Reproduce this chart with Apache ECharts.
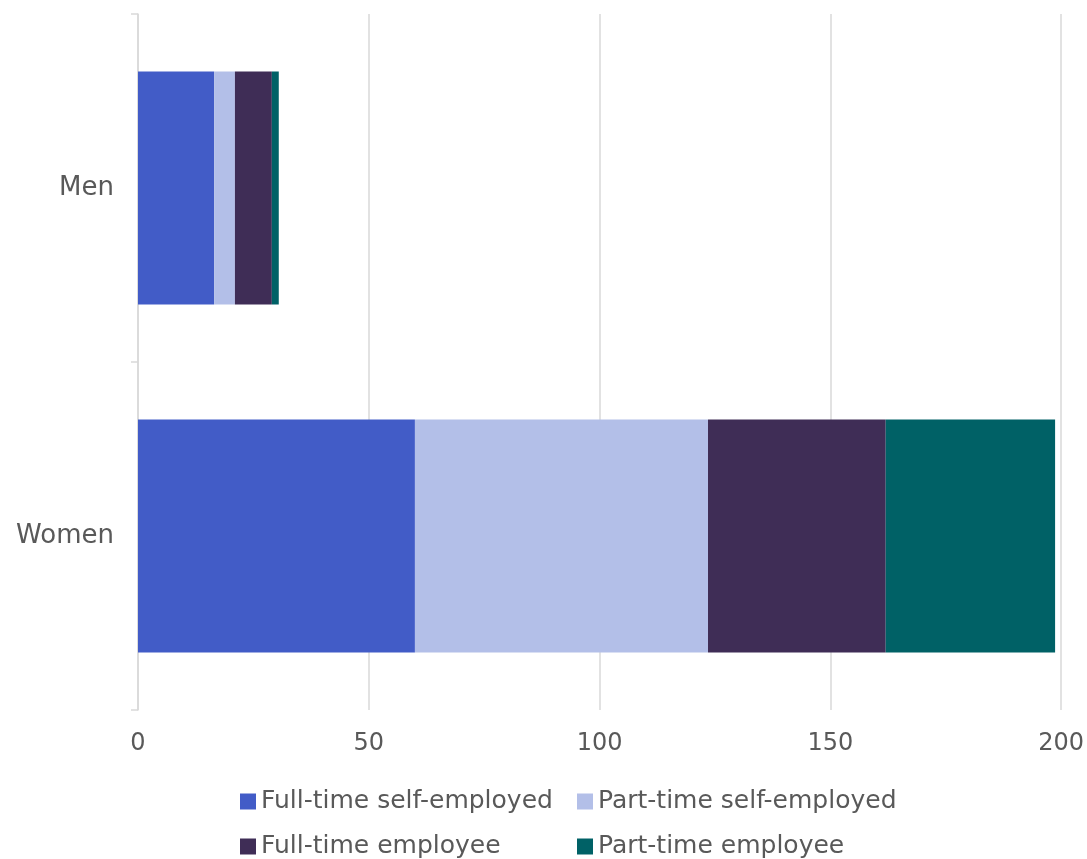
<!DOCTYPE html>
<html><head><meta charset="utf-8">
<script src="https://cdn.jsdelivr.net/npm/echarts@6/dist/echarts.min.js"></script>
<style>html,body{margin:0;padding:0;background:#fff}#c{width:1087px;height:859px}</style>
</head><body><div id="c"></div>
<script>
var categories = ["Men", "Women"];
var seriesNames = ["Full-time self-employed", "Part-time self-employed", "Full-time employee", "Part-time employee"];
var fullTimeSelf = [16.5, 60];
var partTimeSelf = [4.5, 63.5];
var fullTimeEmp = [8.0, 38.5];
var partTimeEmp = [1.5, 36.7];
var xTicks = {min: 0, max: 200, interval: 50};
var colors = ["#425CC7", "#B3BFE8", "#3F2D56", "#006166"];
var values = [fullTimeSelf, partTimeSelf, fullTimeEmp, partTimeEmp];

var FONT = "DejaVu Sans";
var chart = echarts.init(document.getElementById('c'));
var legendText = {color: '#595959', fontSize: 25, fontFamily: FONT};
var legendPos = [[240, 789], [577, 789], [240, 834], [577, 834]];
chart.setOption({
  animation: false,
  textStyle: {fontFamily: FONT},
  grid: {left: 138, right: 25, top: 14, bottom: 149, containLabel: false},
  legend: seriesNames.map(function (n, i) {
    return {data: [n], left: legendPos[i][0], top: legendPos[i][1], itemWidth: 16, itemHeight: 16, itemGap: 4, icon: 'rect', textStyle: legendText, padding: 0};
  }),
  xAxis: {
    type: 'value', min: xTicks.min, max: xTicks.max, interval: xTicks.interval,
    axisLine: {show: false}, axisTick: {show: false},
    splitLine: {show: true, lineStyle: {color: '#d9d9d9', width: 1.5}},
    axisLabel: {color: '#595959', fontSize: 24, margin: 22, fontFamily: FONT}
  },
  yAxis: {
    type: 'category', data: categories, inverse: true,
    axisLine: {show: true, lineStyle: {color: '#d9d9d9', width: 1.5}},
    axisTick: {show: true, length: 7, lineStyle: {color: '#d9d9d9', width: 1.5}},
    axisLabel: {color: '#595959', fontSize: 26, margin: 24, fontFamily: FONT}
  },
  series: values.map(function (v, i) {
    return {
      name: seriesNames[i], type: 'bar', stack: 'total', data: v,
      barCategoryGap: '33%',
      itemStyle: {color: colors[i]}
    };
  })
});
</script></body></html>
